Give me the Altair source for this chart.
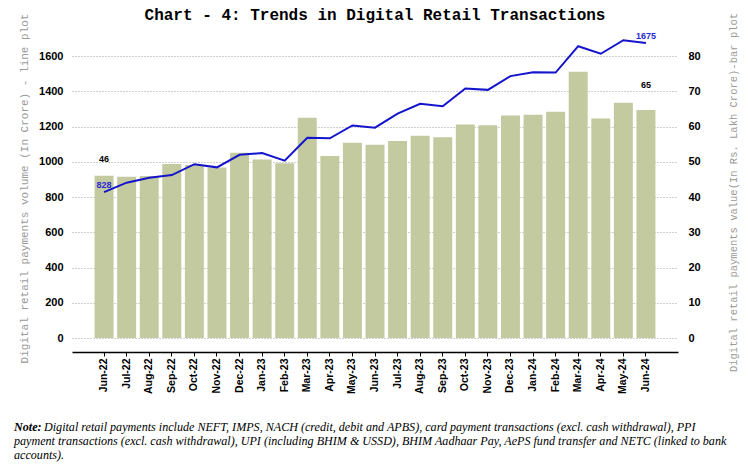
import altair as alt
import pandas as pd

months = ["Jun-22", "Jul-22", "Aug-22", "Sep-22", "Oct-22", "Nov-22", "Dec-22",
          "Jan-23", "Feb-23", "Mar-23", "Apr-23", "May-23", "Jun-23", "Jul-23",
          "Aug-23", "Sep-23", "Oct-23", "Nov-23", "Dec-23", "Jan-24", "Feb-24",
          "Mar-24", "Apr-24", "May-24", "Jun-24"]

# Value (Rs. Lakh Crore) - bars, right axis
value_lakh_crore = [46.1, 45.8, 46.0, 49.4, 49.1, 48.4, 52.6, 50.7, 49.6, 62.5,
                    51.7, 55.4, 54.9, 55.9, 57.4, 57.0, 60.6, 60.4, 63.2, 63.4,
                    64.2, 75.6, 62.3, 66.8, 64.7]

# Volume (Crore) - line, left axis
volume_crore = [828, 882, 910, 925, 987, 969, 1040, 1050, 1007, 1137,
                1134, 1207, 1194, 1274, 1330, 1316, 1417, 1409, 1487, 1509,
                1507, 1657, 1614, 1691, 1675]

left_ticks = [0, 200, 400, 600, 800, 1000, 1200, 1400, 1600]
right_ticks = [0, 10, 20, 30, 40, 50, 60, 70, 80]

title_text = ["Chart - 4: Trends in Digital Retail Transactions"]
left_title = "Digital retail payments volume (In Crore) - line plot"
right_title = "Digital retail payments value(In Rs. Lakh Crore)-bar plot"

note_bold = ["Note:"]
note_lines = [
    "Digital retail payments include NEFT, IMPS, NACH (credit, debit and APBS), card payment transactions (excl. cash withdrawal), PPI",
    "payment transactions (excl. cash withdrawal), UPI (including BHIM & USSD), BHIM Aadhaar Pay, AePS fund transfer and NETC (linked to bank",
    "accounts).",
]

df = pd.DataFrame({"Month": months, "Value": value_lakh_crore, "Volume": volume_crore})

W, H = 616, 317
BAR_COLOR = "#c3ca9f"
LINE_COLOR = "#1414cc"
GRID = "#a0a0a0"
NOTE_FS = 12.1

x_enc = alt.X(
    "Month:N", sort=months, title=None,
    scale=alt.Scale(paddingInner=0.16, paddingOuter=1, range=[5, 611]),
    axis=alt.Axis(labelAngle=270, labelFont="Liberation Sans", labelFontWeight="bold",
                  labelFontSize=10.5, labelColor="black", tickColor="black", tickSize=4,
                  domainColor="black", domainWidth=1.3, offset=14, labelPadding=2,
                  grid=False),
)

y_left = alt.Y(
    "Volume:Q",
    scale=alt.Scale(domain=[0, 1800], nice=False),
    axis=alt.Axis(orient="left", values=left_ticks, format="d", title=left_title,
                  titleFont="Liberation Mono", titleFontSize=11, titleFontWeight="normal",
                  titleColor="#9a9a9a", titleX=-43, titleY=167, titleAngle=270,
                  titleAlign="center", titleBaseline="middle",
                  labelFont="Liberation Sans", labelFontWeight="bold", labelFontSize=11,
                  labelColor="black", labelPadding=4, ticks=False, domain=False,
                  grid=True, gridColor=GRID, gridDash=[1, 2], gridWidth=1),
)

y_right = alt.Y(
    "Value:Q",
    scale=alt.Scale(domain=[0, 90], nice=False),
    axis=alt.Axis(orient="right", values=right_ticks, format="d", title=right_title,
                  titleFont="Liberation Mono", titleFontSize=10.5, titleFontWeight="normal",
                  titleColor="#9a9a9a", titleX=50, titleY=171, titleAngle=270,
                  titleAlign="center", titleBaseline="middle",
                  labelFont="Liberation Sans", labelFontWeight="bold", labelFontSize=11,
                  labelColor="black", labelPadding=5, ticks=False, domain=False,
                  grid=False),
)

base = alt.Chart(df)

bars = base.mark_bar(color=BAR_COLOR).encode(x=x_enc, y=y_right)
bar_lbl_first = base.transform_filter(alt.datum.Month == months[0]).mark_text(
    font="Liberation Sans", fontWeight="bold", fontSize=9, color="black",
    baseline="middle", dy=-17).encode(x=x_enc, y=y_right, text=alt.Text("Value:Q", format=".0f"))
bar_lbl_last = base.transform_filter(alt.datum.Month == months[-1]).mark_text(
    font="Liberation Sans", fontWeight="bold", fontSize=9, color="black",
    baseline="middle", dy=-25).encode(x=x_enc, y=y_right, text=alt.Text("Value:Q", format=".0f"))
bar_layer = alt.layer(bars, bar_lbl_first, bar_lbl_last)

line = base.mark_line(color=LINE_COLOR, strokeWidth=2).encode(x=x_enc, y=y_left)
line_lbl = base.transform_filter(
    (alt.datum.Month == months[0]) | (alt.datum.Month == months[-1])
).mark_text(font="Liberation Sans", fontWeight="bold", fontSize=9, color="#2b2bd6",
            baseline="middle", dy=-7).encode(x=x_enc, y=y_left, text=alt.Text("Volume:Q", format=".0f"))
line_layer = alt.layer(line, line_lbl)

title_mark = alt.Chart(pd.DataFrame({"t": title_text})).mark_text(
    align="center", baseline="middle", font="Liberation Mono", fontWeight="bold",
    fontSize=16, color="black"
).encode(x=alt.value(W / 2), y=alt.value(-6), text="t:N")

note_b = alt.Chart(pd.DataFrame({"t": note_bold})).mark_text(
    align="left", baseline="middle", font="Liberation Serif", fontStyle="italic",
    fontWeight="bold", fontSize=NOTE_FS, color="black"
).encode(x=alt.value(-53), y=alt.value(406), text="t:N")

note_df = pd.DataFrame({"t": note_lines, "i": list(range(len(note_lines)))})
note1 = alt.Chart(note_df).transform_filter(alt.datum.i == 0).mark_text(
    align="left", baseline="middle", font="Liberation Serif", fontStyle="italic",
    fontSize=NOTE_FS, color="black"
).encode(x=alt.value(-23), y=alt.value(406), text="t:N")
note2 = alt.Chart(note_df).transform_filter(alt.datum.i == 1).mark_text(
    align="left", baseline="middle", font="Liberation Serif", fontStyle="italic",
    fontSize=NOTE_FS, color="black"
).encode(x=alt.value(-53), y=alt.value(420), text="t:N")
note3 = alt.Chart(note_df).transform_filter(alt.datum.i == 2).mark_text(
    align="left", baseline="middle", font="Liberation Serif", fontStyle="italic",
    fontSize=NOTE_FS, color="black"
).encode(x=alt.value(-53), y=alt.value(434), text="t:N")

chart = alt.layer(bar_layer, line_layer, title_mark, note_b, note1, note2, note3).resolve_scale(
    y="independent"
).properties(
    width=W, height=H,
    padding={"left": 59, "top": 13, "right": 57, "bottom": 124},
    autosize=alt.AutoSizeParams(type="none"),
).configure_view(stroke=None)

chart.save("out.html", embed_options={"renderer": "svg", "actions": False})
